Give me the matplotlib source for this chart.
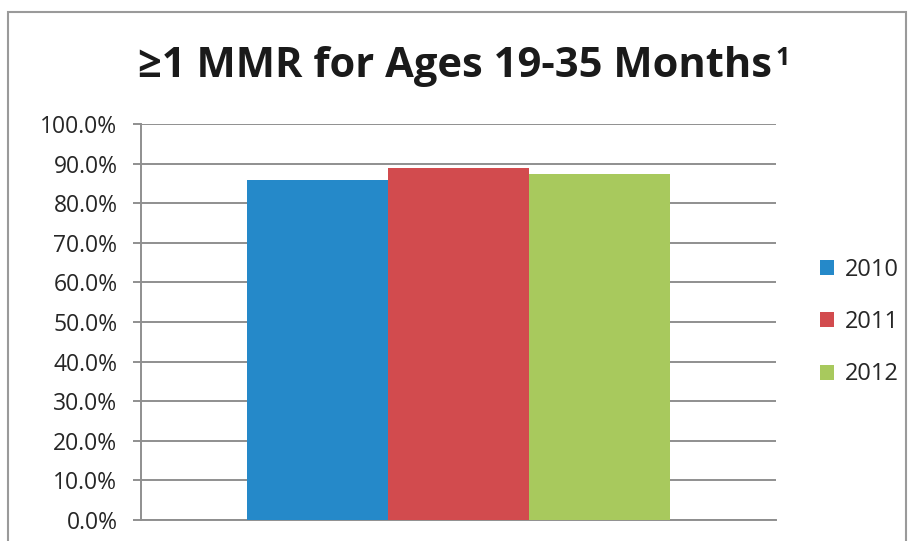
import matplotlib
matplotlib.use("Agg")
import matplotlib.pyplot as plt
from matplotlib.patches import Rectangle

years = ["2010", "2011", "2012"]
values = [85.9, 88.9, 87.4]
colors = ["#2589C9", "#D24B4E", "#A8C95D"]
yticks = [0, 10, 20, 30, 40, 50, 60, 70, 80, 90, 100]
title = "≥1 MMR for Ages 19-35 Months"
title_sup = "1"

plt.rcParams['font.family'] = ['Open Sans', 'DejaVu Sans']

W, H = 911, 541
fig = plt.figure(figsize=(W/100, H/100), dpi=100)
ax = fig.add_axes([141/W, 1-520/H, (776-141)/W, (520-124)/H])

w = 0.2225
for i, (y, v, c) in enumerate(zip(years, values, colors)):
    ax.bar((i-1)*w, v, width=w, color=c, label=y, zorder=3)

gray = "#8f8f8f"
ax.set_xlim(-0.5, 0.5)
ax.set_ylim(0, 100)
ax.set_yticks(yticks)
ax.set_yticklabels([f"{t:.1f}%" for t in yticks], fontsize=16.5, color="#262626")
ax.set_xticks([])
ax.yaxis.grid(True, color=gray, linewidth=1.4, zorder=0)
for s in ["top", "right"]:
    ax.spines[s].set_visible(False)
for s in ["left", "bottom"]:
    ax.spines[s].set_color(gray)
    ax.spines[s].set_linewidth(1.4)
ax.tick_params(axis='y', length=6, color=gray, width=1.4, pad=11)

leg = fig.legend(loc="center left", bbox_to_anchor=(820/W, 1-322/H), frameon=False,
                 fontsize=17, handlelength=0.6, handleheight=0.6,
                 labelspacing=1.2, handletextpad=0.45, borderpad=0, borderaxespad=0)
for t in leg.get_texts():
    t.set_color("#262626")

t_main = fig.text(0.5, 1-77/H, title, ha="center", va="baseline",
                  fontsize=30, fontweight="bold", color="#1a1a1a")
fig.canvas.draw()
bb = t_main.get_window_extent()
fig.text((bb.x1 + 3)/W, 1-65/H, title_sup, ha="left", va="baseline",
         fontsize=18, fontweight="bold", color="#1a1a1a")

fig.patches.append(Rectangle((8/W, -0.1), (906-8)/W, 1.1-12/H,
                             transform=fig.transFigure, fill=False,
                             edgecolor="#9a9a9a", linewidth=1.5))

fig.savefig("out.png", dpi=100)
